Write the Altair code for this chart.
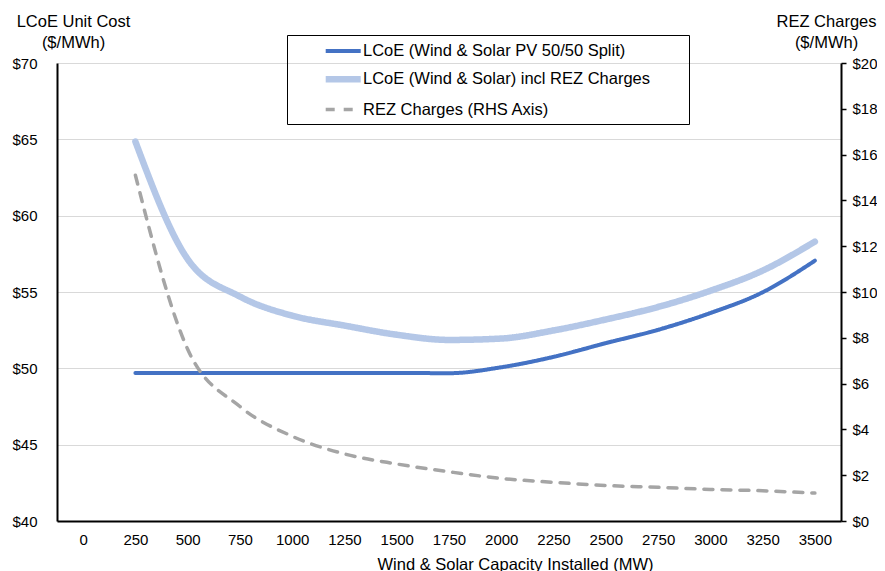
import altair as alt
import pandas as pd

# ---- data ----
capacity = [250, 500, 750, 1000, 1250, 1500, 1750, 2000, 2250, 2500, 2750, 3000, 3250, 3500]
lcoe_split = [49.7, 49.7, 49.7, 49.7, 49.7, 49.7, 49.68, 50.07, 50.75, 51.65, 52.52, 53.62, 54.98, 57.05]
lcoe_rez = [64.85, 57.15, 54.7, 53.45, 52.8, 52.2, 51.86, 51.95, 52.48, 53.2, 54.02, 55.08, 56.4, 58.3]
rez_charges = [15.1, 7.5, 5.0, 3.7, 2.93, 2.49, 2.15, 1.86, 1.69, 1.55, 1.47, 1.38, 1.32, 1.22]

x_ticks = [0, 250, 500, 750, 1000, 1250, 1500, 1750, 2000, 2250, 2500, 2750, 3000, 3250, 3500]
left_ticks = [40, 45, 50, 55, 60, 65, 70]
right_ticks = [0, 2, 4, 6, 8, 10, 12, 14, 16, 18, 20]

series_names = [
    "LCoE (Wind & Solar PV 50/50 Split)",
    "LCoE (Wind & Solar) incl REZ Charges",
    "REZ Charges (RHS Axis)",
]
colors = ["#4472C4", "#B4C7E7", "#A5A5A5"]

rows = []
for name, vals in zip(series_names, [lcoe_split, lcoe_rez, rez_charges]):
    for c, v in zip(capacity, vals):
        rows.append({"capacity": c, "value": v, "series": name})
df = pd.DataFrame(rows)

FONT = "Liberation Sans"

legend = alt.Legend(
    title="\u00a0",
    titleOrient="right",
    titlePadding=34,
    titleFontSize=16.5,
    legendX=230,
    legendY=-28,
    orient="none",
    direction="vertical",
    symbolType="M 2.409 0 H 6.387",
    symbolSize=310,
    labelFont=FONT,
    labelFontSize=16.5,
    labelColor="black",
    labelOffset=46,
    labelLimit=0,
    rowPadding=5.8,
    padding=5,
    strokeColor="black",
)

color = alt.Color("series:N", scale=alt.Scale(domain=series_names, range=colors), legend=legend)
dash = alt.StrokeDash(
    "series:N",
    scale=alt.Scale(domain=series_names, range=[[1, 0], [1, 0], [9, 9]]),
    legend=legend,
)
width = alt.StrokeWidth(
    "series:N",
    scale=alt.Scale(type="ordinal", domain=series_names, range=[4, 6.5, 3.5]),
    legend=legend,
)

x = alt.X(
    "capacity:Q",
    scale=alt.Scale(domain=[-125, 3625], nice=False, zero=False),
    axis=alt.Axis(
        values=x_ticks,
        format="d",
        title="Wind & Solar Capacity Installed (MW)",
        ticks=False,
        grid=False,
        labelPadding=11,
        labelFontSize=15,
        labelFlush=False,
        titleX=458,
        titleY=43,
        titleAlign="center",
        titleBaseline="middle",
        domainColor="black",
        domainWidth=2,
    ),
)

base = alt.Chart(df)

left = base.transform_filter(
    alt.FieldOneOfPredicate(field="series", oneOf=series_names[:2])
).mark_line(interpolate="monotone", strokeCap="round").encode(
    x=x,
    y=alt.Y(
        "value:Q",
        scale=alt.Scale(domain=[40, 70], nice=False, zero=False),
        axis=alt.Axis(
            values=left_ticks,
            labelExpr="'$' + datum.value",
            title=["LCoE Unit Cost", "($/MWh)"],
            titleAngle=0,
            titleX=16,
            titleY=-42,
            titleAlign="center",
            titleBaseline="middle",
            titleLineHeight=21,
            ticks=False,
            tickSize=0,
            labelPadding=20,
            labelFontSize=15,
            grid=True,
            gridColor="#D9D9D9",
            gridWidth=1,
            domainColor="black",
            domainWidth=2,
        ),
    ),
    color=color,
    strokeDash=dash,
    strokeWidth=width,
)

right = base.transform_filter(
    alt.FieldEqualPredicate(field="series", equal=series_names[2])
).mark_line(interpolate="monotone", strokeCap="round").encode(
    x=x,
    y=alt.Y(
        "value:Q",
        scale=alt.Scale(domain=[0, 20], nice=False, zero=False),
        axis=alt.Axis(
            orient="right",
            values=right_ticks,
            labelExpr="'$' + datum.value",
            title=["REZ Charges", "($/MWh)"],
            titleAngle=0,
            titleX=-15,
            titleY=-42,
            titleAlign="center",
            titleBaseline="middle",
            titleLineHeight=21,
            ticks=True,
            tickSize=5,
            tickColor="black",
            tickWidth=1.5,
            labelPadding=6,
            labelFontSize=15,
            grid=False,
            domainColor="black",
            domainWidth=2,
        ),
    ),
    color=color,
    strokeDash=dash,
    strokeWidth=width,
)

chart = alt.layer(left, right).resolve_scale(y="independent").properties(
    width=784,
    height=458,
    autosize=alt.AutoSizeParams(type="none"),
    padding={"left": 49, "top": 55, "right": 36, "bottom": 50},
).configure_view(strokeWidth=0).configure_axis(
    labelFont=FONT,
    titleFont=FONT,
    labelColor="black",
    titleColor="black",
    titleFontSize=16.5,
    titleFontWeight="normal",
)

chart.save("out.html", embed_options={"renderer": "svg", "actions": False})
